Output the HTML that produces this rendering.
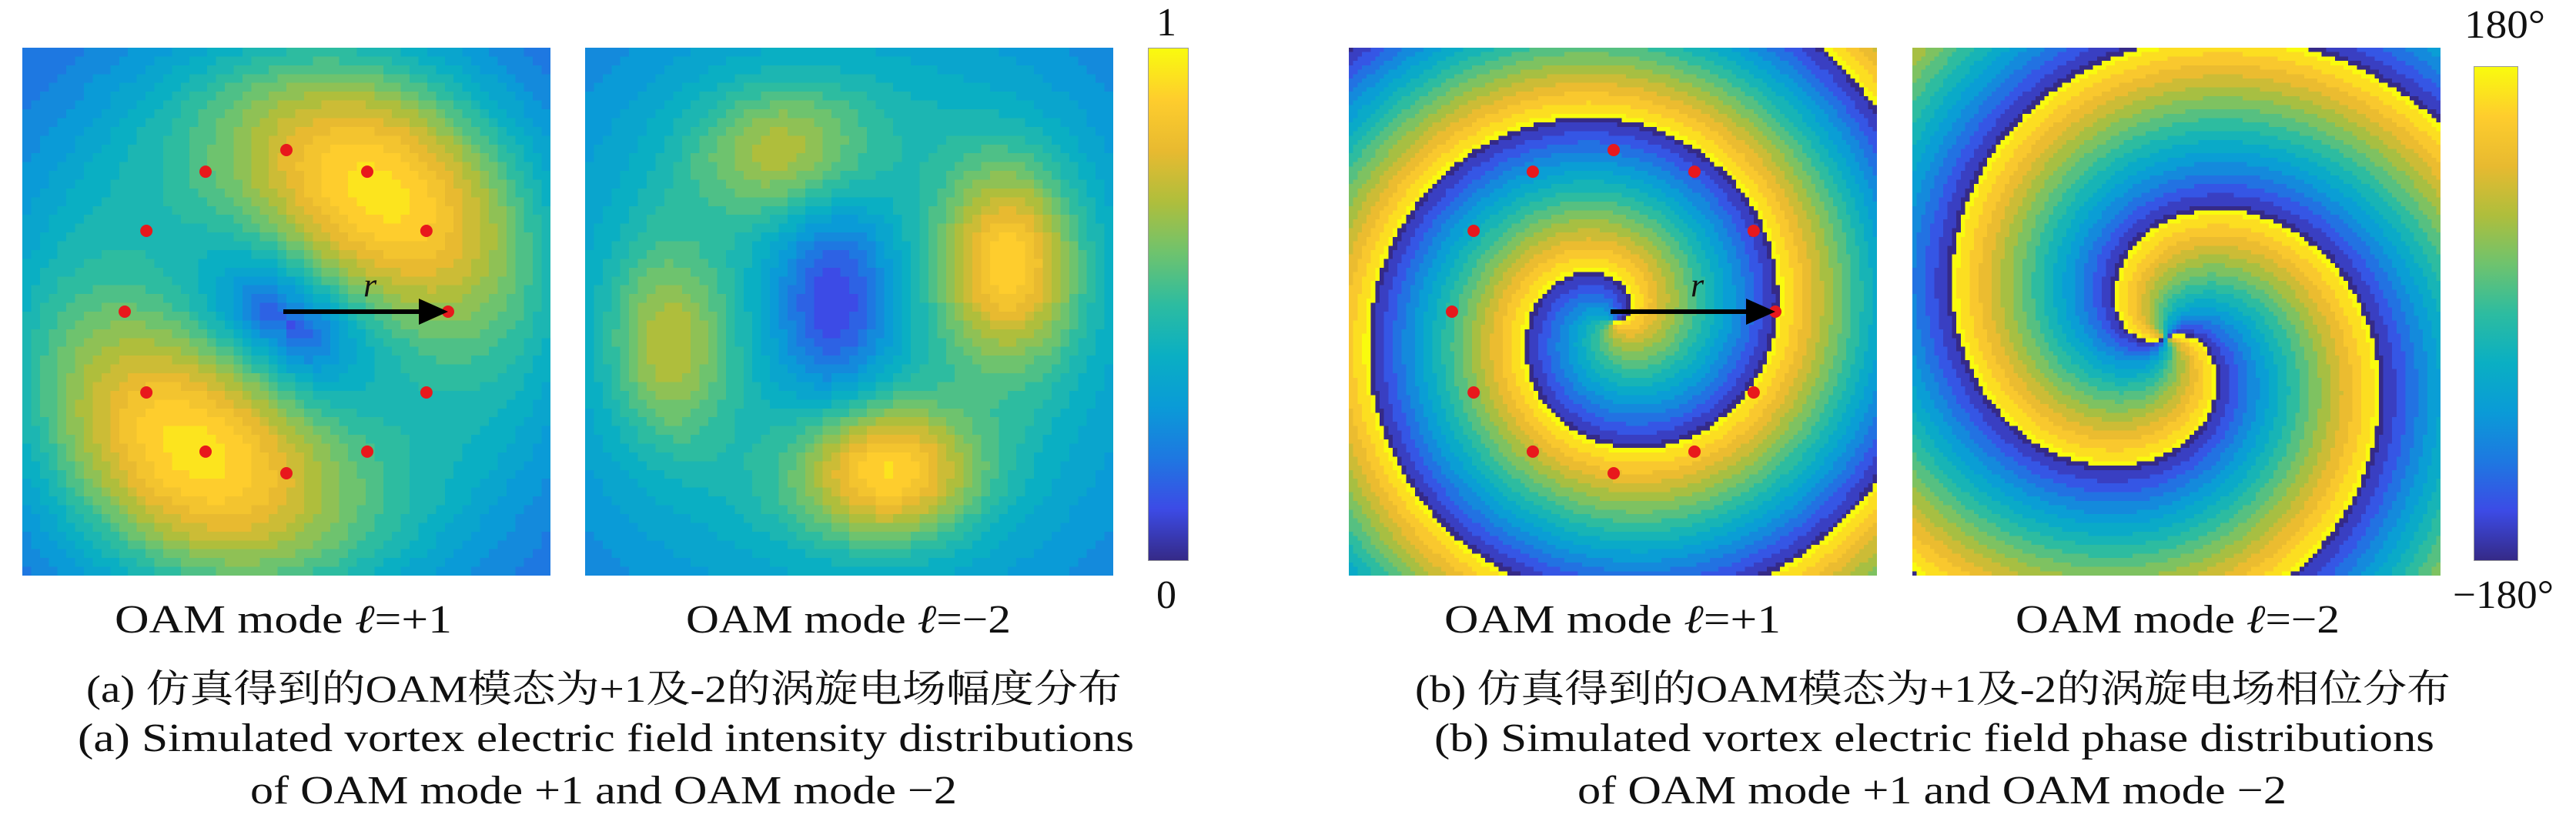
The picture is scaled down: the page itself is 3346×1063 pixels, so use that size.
<!DOCTYPE html>
<html><head><meta charset="utf-8">
<style>
html,body{margin:0;padding:0;background:#fff;}
#root{position:relative;width:3346px;height:1063px;overflow:hidden;background:#fff;}
canvas{position:absolute;image-rendering:pixelated;}
.cbar{position:absolute;border:1px solid #999;box-sizing:border-box;
 background:linear-gradient(to top,rgb(53,42,135) 0%,rgb(60,75,230) 10%,rgb(30,120,225) 20%,rgb(10,155,215) 30%,rgb(10,175,195) 40%,rgb(45,188,160) 50%,rgb(110,195,110) 60%,rgb(175,190,60) 70%,rgb(232,186,48) 80%,rgb(254,205,45) 90%,rgb(249,251,14) 100%);}
svg{position:absolute;left:0;top:0;}
text{font-family:"Liberation Serif","Noto Serif CJK SC",serif;fill:#111;}
</style></head><body>
<div id="root">
<canvas id="a1" style="left:29px;top:62px;width:686px;height:686px"></canvas>
<canvas id="a2" style="left:760px;top:62px;width:686px;height:686px"></canvas>
<canvas id="b1" style="left:1752px;top:62px;width:686px;height:686px"></canvas>
<canvas id="b2" style="left:2484px;top:62px;width:686px;height:686px"></canvas>
<div class="cbar" style="left:1491px;top:62px;width:53px;height:667px"></div>
<div class="cbar" style="left:3213px;top:86px;width:58px;height:643px"></div>
<svg id="ov" width="3346" height="1063">
<text x="1515" y="46" font-size="52" text-anchor="middle">1</text>
<text x="1515" y="790" font-size="52" text-anchor="middle">0</text>
<text x="3201" y="49" font-size="52" textLength="105" lengthAdjust="spacingAndGlyphs">180°</text>
<text x="3186" y="790" font-size="52" textLength="131" lengthAdjust="spacingAndGlyphs">−180°</text>
<text x="149" y="822" font-size="52" textLength="438" lengthAdjust="spacingAndGlyphs">OAM mode <tspan font-style="italic">ℓ</tspan>=+1</text>
<text x="891" y="822" font-size="52" textLength="422" lengthAdjust="spacingAndGlyphs">OAM mode <tspan font-style="italic">ℓ</tspan>=−2</text>
<text x="1876" y="822" font-size="52" textLength="437" lengthAdjust="spacingAndGlyphs">OAM mode <tspan font-style="italic">ℓ</tspan>=+1</text>
<text x="2618" y="822" font-size="52" textLength="421" lengthAdjust="spacingAndGlyphs">OAM mode <tspan font-style="italic">ℓ</tspan>=−2</text>
<text x="112" y="912" font-size="50" textLength="1345" lengthAdjust="spacingAndGlyphs">(a) 仿真得到的OAM模态为+1及-2的涡旋电场幅度分布</text>
<text x="101" y="976" font-size="52" textLength="1372" lengthAdjust="spacingAndGlyphs">(a) Simulated vortex electric field intensity distributions</text>
<text x="325" y="1044" font-size="52" textLength="918" lengthAdjust="spacingAndGlyphs">of OAM mode +1 and OAM mode −2</text>
<text x="1838" y="912" font-size="50" textLength="1345" lengthAdjust="spacingAndGlyphs">(b) 仿真得到的OAM模态为+1及-2的涡旋电场相位分布</text>
<text x="1863" y="976" font-size="52" textLength="1299" lengthAdjust="spacingAndGlyphs">(b) Simulated vortex electric field phase distributions</text>
<text x="2049" y="1044" font-size="52" textLength="921" lengthAdjust="spacingAndGlyphs">of OAM mode +1 and OAM mode −2</text>
<g id="marks"></g>
</svg>
</div>
<script>
const dotAngles=[0,30,60,90,120,150,180,210,240,270,300,330];
const dotCentersX=[372,2096];
const dotCenterY=405;
const dotRadius=210;
// intensity lobes for mode -2: [u, v, amplitude, sigmaX, sigmaY]
const lobesA2=[[0.38,0.2,0.3,0.12,0.09],[0.8,0.41,0.5,0.09,0.13],[0.57,0.8,0.52,0.12,0.09],[0.16,0.56,0.3,0.08,0.13]];
const stops=[[0,[53,42,135]],[0.1,[60,75,230]],[0.2,[30,120,225]],[0.3,[10,155,215]],[0.4,[10,175,195]],[0.5,[45,188,160]],[0.6,[110,195,110]],[0.7,[175,190,60]],[0.8,[232,186,48]],[0.9,[254,205,45]],[1,[249,251,14]]];
function cmap(t){t=Math.max(0,Math.min(1,t));
 for(let i=1;i<stops.length;i++){if(t<=stops[i][0]){const a=stops[i-1],b=stops[i],f=(t-a[0])/(b[0]-a[0]);
 return 'rgb('+a[1].map((c,k)=>Math.round(c+(b[1][k]-c)*f)).join(',')+')';}}
 return 'rgb(249,251,14)';}
function draw(id,n,fn,quant){const c=document.getElementById(id);c.width=n;c.height=n;const g=c.getContext('2d');
 for(let j=0;j<n;j++)for(let i=0;i<n;i++){let v=fn((i+0.5)/n,(j+0.5)/n);if(quant)v=Math.round(v*quant)/quant;g.fillStyle=cmap(v);g.fillRect(i,j,1,1);}}
draw('a1',60,(u,v)=>{const dx=u-0.5,dy=v-0.52;const r=Math.hypot(dx,dy);const th=Math.atan2(dy,dx);
 const g=Math.exp(-Math.pow(r-0.3,2)/(2*0.16*0.16));const f=0.25+0.75*Math.pow(Math.cos(th+55*Math.PI/180),2);
 return 0.3+0.65*g*f - 0.22*Math.exp(-r*r/0.012) - 0.5*Math.max(0,r-0.45);},20);
draw('a2',60,(u,v)=>{const r=Math.hypot(u-0.5,v-0.5);
 let s=0.42-0.6*Math.max(0,r-0.4)-0.34*Math.exp(-(Math.pow(u-0.47,2)/(2*0.08*0.08)+Math.pow(v-0.48,2)/(2*0.14*0.14)));
 for(const L of lobesA2){s+=L[2]*Math.exp(-(Math.pow(u-L[0],2)/(2*L[3]*L[3])+Math.pow(v-L[1],2)/(2*L[4]*L[4])));}return s;},20);
function wrap(p){p=p%(2*Math.PI);if(p<0)p+=2*Math.PI;return p/(2*Math.PI);}
draw('b1',120,(u,v)=>{const dx=u-0.5,dy=v-0.52;const r=Math.hypot(dx,dy);const th=Math.atan2(dy,dx);
 const k=2*Math.PI/0.3;return wrap(-th+k*0.31-k*r);},16);
draw('b2',120,(u,v)=>{const dx=u-0.48,dy=v-0.55;const r=Math.hypot(dx,dy);const th=Math.atan2(dy,dx);
 const k=2*Math.PI/0.34;return wrap(-2*th-k*0.05+k*r);},16);
const NS='http://www.w3.org/2000/svg';const marks=document.getElementById('marks');
dotCentersX.forEach((cx,k)=>{
 dotAngles.forEach(a=>{const e=document.createElementNS(NS,'circle');
  
  
  e.setAttribute('cx',cx+dotRadius*Math.cos(a*Math.PI/180));e.setAttribute('cy',dotCenterY-dotRadius*Math.sin(a*Math.PI/180));
  e.setAttribute('r',8);e.setAttribute('fill','#e8181c');marks.appendChild(e);});
 const ln=document.createElementNS(NS,'line');
 
 
 ln.setAttribute('x1',cx-4);ln.setAttribute('y1',dotCenterY);ln.setAttribute('x2',cx+dotRadius-34);ln.setAttribute('y2',dotCenterY);
 ln.setAttribute('stroke','#000');ln.setAttribute('stroke-width',6);marks.appendChild(ln);
 const hd=document.createElementNS(NS,'polygon');
 
 
 const tx=cx+dotRadius;hd.setAttribute('points',(tx)+','+dotCenterY+' '+(tx-38)+','+(dotCenterY-17)+' '+(tx-38)+','+(dotCenterY+17));
 hd.setAttribute('fill','#000');marks.appendChild(hd);
 const t=document.createElementNS(NS,'text');
 
 
 t.setAttribute('x',cx+100);t.setAttribute('y',dotCenterY-20);t.setAttribute('font-size','44');t.setAttribute('font-style','italic');t.textContent='r';marks.appendChild(t);
});
</script>
</body></html>
